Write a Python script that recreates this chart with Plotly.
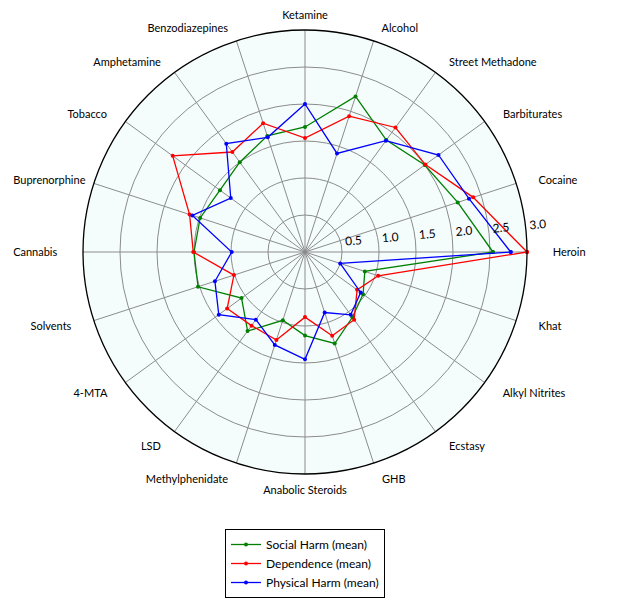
import math
import plotly.graph_objects as go

# Drug harm scores (mean), categories counterclockwise from Heroin
drugs = ["Heroin", "Cocaine", "Barbiturates", "Street Methadone", "Alcohol",
         "Ketamine", "Benzodiazepines", "Amphetamine", "Tobacco", "Buprenorphine",
         "Cannabis", "Solvents", "4-MTA", "LSD", "Methylphenidate",
         "Anabolic Steroids", "GHB", "Ecstasy", "Alkyl Nitrites", "Khat"]
physical = [2.78, 2.33, 2.23, 1.86, 1.40, 2.00, 1.63, 1.81, 1.24, 1.60,
            0.99, 1.28, 1.44, 1.13, 1.32, 1.45, 0.86, 1.05, 0.93, 0.50]
dependence = [3.00, 2.39, 2.01, 2.08, 1.93, 1.54, 1.83, 1.67, 2.21, 1.64,
              1.51, 1.01, 1.30, 1.23, 1.25, 0.88, 1.19, 1.13, 0.87, 1.04]
social = [2.54, 2.17, 2.00, 1.87, 2.21, 1.69, 1.65, 1.50, 1.42, 1.49,
          1.50, 1.52, 1.06, 1.32, 0.97, 1.13, 1.30, 1.09, 0.97, 0.85]
radial_ticks = [0.5, 1.0, 1.5, 2.0, 2.5, 3.0]

series = [
    ("Social Harm (mean)", social, "#007f00"),
    ("Dependence (mean)", dependence, "#ff0000"),
    ("Physical Harm (mean)", physical, "#0000ff"),
]

# pad the side labels a little so they sit further from the circle
nb = "\u00a0"
pad_override = {"Buprenorphine": 0}
tick_text = []
for i, d in enumerate(drugs):
    c = math.cos(math.radians(i * 360 / len(drugs)))
    n = pad_override.get(d, round(5.5 * abs(c)))
    tick_text.append(nb * n + d if c > 0 else d + nb * n)

# radial labels pushed outward along the axis
radial_text = [nb * 8 + f"{v:.1f}" for v in radial_ticks]

fig = go.Figure()
for name, vals, color in series:
    # repeat the first point so the polygon closes
    fig.add_trace(go.Scatterpolar(
        r=vals + vals[:1], theta=drugs + drugs[:1],
        mode="lines+markers", name=name,
        line=dict(color=color, width=1.3),
        marker=dict(color=color, size=4),
    ))

fig.update_layout(
    width=617, height=600,
    margin=dict(l=0, r=0, t=0, b=0, autoexpand=False),
    paper_bgcolor="white",
    font=dict(family="Lato", size=11, color="black"),
    polar=dict(
        domain=dict(x=[75 / 617, 519 / 617], y=[1 - 466 / 600, 1 - 22 / 600]),
        bgcolor="#f4fcfc",
        angularaxis=dict(
            type="category", categoryorder="array", categoryarray=drugs,
            tickvals=drugs, ticktext=tick_text,
            direction="counterclockwise", rotation=0,
            showline=True, linecolor="black", linewidth=1.3,
            gridcolor="#8c8c8c", gridwidth=0.8,
            ticks="outside", ticklen=6, tickcolor="rgba(0,0,0,0)",
            tickfont=dict(size=11),
        ),
        radialaxis=dict(
            range=[0, 3.0], tickvals=radial_ticks, ticktext=radial_text,
            angle=5, tickangle=0, side="counterclockwise",
            showline=False, ticks="",
            gridcolor="#8c8c8c", gridwidth=0.8,
            tickfont=dict(size=12),
        ),
    ),
    legend=dict(
        x=297 / 617, xanchor="center", y=1 - 521 / 600, yanchor="top",
        bordercolor="black", borderwidth=1, bgcolor="white",
        font=dict(size=12), tracegroupgap=0, itemwidth=30,
    ),
)

fig.write_html("out.html")
